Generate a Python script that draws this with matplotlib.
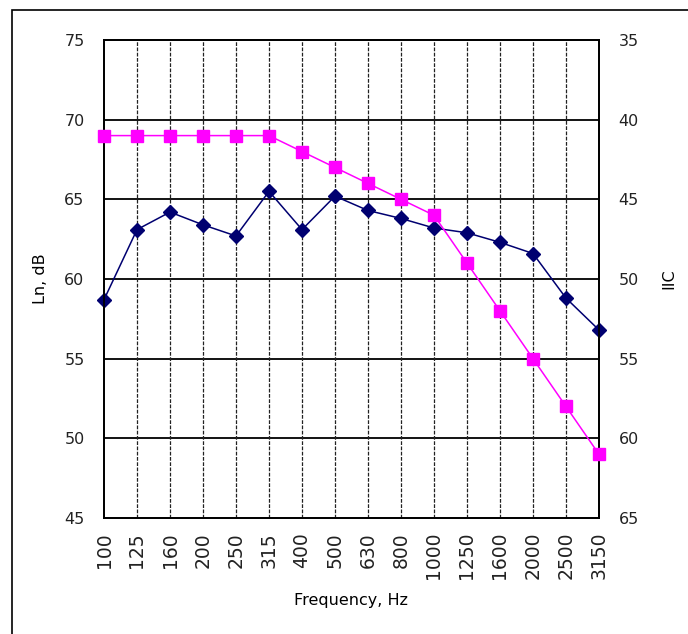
import matplotlib.pyplot as plt
import matplotlib.patches as mpatches

# Data
freqs = ["100", "125", "160", "200", "250", "315", "400", "500",
         "630", "800", "1000", "1250", "1600", "2000", "2500", "3150"]
ln_db = [58.7, 63.1, 64.2, 63.4, 62.7, 65.5, 63.1, 65.2,
         64.3, 63.8, 63.2, 62.9, 62.3, 61.6, 58.8, 56.8]
iic = [41, 41, 41, 41, 41, 41, 42, 43, 44, 45, 46, 49, 52, 55, 58, 61]

plt.rcParams["font.family"] = ["DejaVu Sans"]
plt.rcParams["font.size"] = 11.5

fig = plt.figure(figsize=(6.88, 6.34), dpi=100)
ax = fig.add_axes([104 / 688, 1 - 518 / 634, 495 / 688, 478 / 634])
ax2 = ax.twinx()

x = list(range(len(freqs)))

# Grid
for yv in [50, 55, 60, 65, 70]:
    ax.axhline(yv, color="black", lw=1.3, zorder=1)
for xv in x[1:-1]:
    ax.axvline(xv, color="#222222", lw=0.9, ls=(0, (3, 1.2)), zorder=1)

ax.plot(x, ln_db, color="#000070", marker="D", markersize=7, lw=1.1,
        zorder=3, clip_on=False)
ax2.plot(x, iic, color="#FF00FF", marker="s", markersize=9, lw=1.1,
         zorder=3, clip_on=False)

ax.set_xlim(0, len(freqs) - 1)
ax.set_ylim(45, 75)
ax.set_yticks([45, 50, 55, 60, 65, 70, 75])
ax.set_xticks(x)
ax.set_xticklabels(freqs, rotation=90)
ax.set_xlabel("Frequency, Hz", labelpad=10)
ax.set_ylabel("Ln, dB", labelpad=12)

ax2.set_ylim(65, 35)
ax2.set_yticks([35, 40, 45, 50, 55, 60, 65])
ax2.set_ylabel("IIC", labelpad=16)

for a in (ax, ax2):
    a.tick_params(length=0, pad=14, colors="#222222")
    for s in a.spines.values():
        s.set_linewidth(1.3)
        s.set_color("black")
ax.tick_params(axis="x", pad=10, labelsize=13.5)

# outer frame of the chart area
fig.patches.append(mpatches.Rectangle((12 / 688, -0.1), 1.0, 1 - 10 / 634 + 0.1,
                                      transform=fig.transFigure, fill=False,
                                      edgecolor="black", lw=1.2))

fig.savefig("out.png", dpi=100)
